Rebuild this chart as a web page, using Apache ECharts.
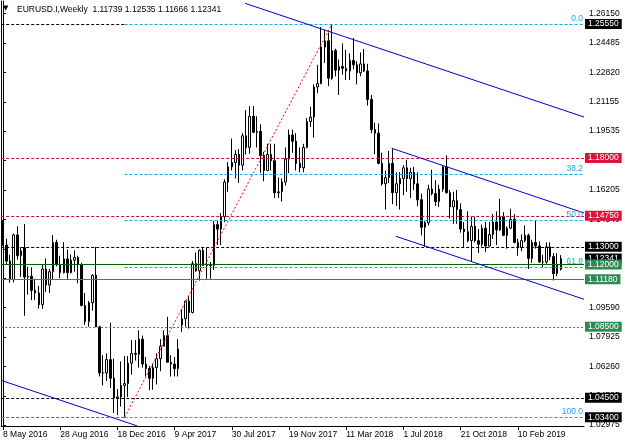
<!DOCTYPE html>
<html>
<head>
<meta charset="utf-8">
<script src="https://cdn.jsdelivr.net/npm/echarts@6/dist/echarts.min.js"></script>
<style>
html, body { margin: 0; padding: 0; background: #fff; }
#chart { width: 625px; height: 446px; }
</style>
</head>
<body>
<div id="chart"></div>
<script>
// weekly EURUSD bars, first bar = week of 8 May 2016
const openPrices = [
    1.1405, 1.1310, 1.1220, 1.1115, 1.1367, 1.1250, 1.1295, 1.1130, 1.1135, 1.1055,
    1.1040, 1.0975, 1.1175, 1.1085, 1.1160, 1.1325, 1.1200, 1.1155, 1.1232, 1.1155,
    1.1225, 1.1240, 1.1200, 1.0970, 1.0880, 1.0985, 1.1140, 1.0850, 1.0590, 1.0590,
    1.0665, 1.0560, 1.0450, 1.0455, 1.0520, 1.0530, 1.0645, 1.0700, 1.0695, 1.0780,
    1.0640, 1.0615, 1.0560, 1.0620, 1.0670, 1.0740, 1.0800, 1.0650, 1.0640, 1.0615,
    1.0860, 1.0895, 1.0995, 1.0930, 1.1205, 1.1165, 1.1280, 1.1195, 1.1195, 1.1195,
    1.1425, 1.1400, 1.1470, 1.1665, 1.1750, 1.1775, 1.1820, 1.1760, 1.1925, 1.1860,
    1.2035, 1.1945, 1.1950, 1.1815, 1.1730, 1.1820, 1.1785, 1.1605, 1.1610, 1.1665,
    1.1795, 1.1930, 1.1895, 1.1770, 1.1745, 1.1860, 1.2005, 1.2030, 1.2200, 1.2220,
    1.2425, 1.2460, 1.2250, 1.2405, 1.2295, 1.2315, 1.2305, 1.2290, 1.2350, 1.2325,
    1.2280, 1.2330, 1.2290, 1.2130, 1.1960, 1.1940, 1.1770, 1.1655, 1.1690, 1.1770,
    1.1605, 1.1655, 1.1685, 1.1745, 1.1685, 1.1720, 1.1655, 1.1565, 1.1410, 1.1435,
    1.1625, 1.1600, 1.1555, 1.1625, 1.1750, 1.1605, 1.1525, 1.1560, 1.1510, 1.1400,
    1.1385, 1.1335, 1.1415, 1.1335, 1.1315, 1.1405, 1.1305, 1.1370, 1.1440, 1.1395,
    1.1470, 1.1365, 1.1405, 1.1455, 1.1325, 1.1295, 1.1335, 1.1365, 1.1235, 1.1325,
    1.1305, 1.1215, 1.1215, 1.1300, 1.1245, 1.1150, 1.11739
];
const highPrices = [
    1.1451, 1.1345, 1.1255, 1.1375, 1.1416, 1.1298, 1.1428, 1.1188, 1.1185, 1.1120,
    1.1080, 1.1198, 1.1235, 1.1175, 1.1366, 1.1340, 1.1250, 1.1327, 1.1285, 1.1258,
    1.1280, 1.1250, 1.1210, 1.1040, 1.0995, 1.1145, 1.1300, 1.0855, 1.0690, 1.0700,
    1.0873, 1.0670, 1.0500, 1.0655, 1.0685, 1.0685, 1.0775, 1.0775, 1.0830, 1.0800,
    1.0680, 1.0630, 1.0640, 1.0700, 1.0780, 1.0830, 1.0906, 1.0690, 1.0680, 1.0780,
    1.0950, 1.0995, 1.1023, 1.1220, 1.1268, 1.1285, 1.1295, 1.1295, 1.1215, 1.1445,
    1.1445, 1.1490, 1.1680, 1.1777, 1.1910, 1.1845, 1.1850, 1.1940, 1.2070, 1.2092,
    1.2092, 1.2035, 1.1990, 1.1835, 1.1880, 1.1880, 1.1880, 1.1690, 1.1685, 1.1860,
    1.1960, 1.1960, 1.1940, 1.1860, 1.1880, 1.2025, 1.2090, 1.2215, 1.2325, 1.2537,
    1.2520, 1.2507, 1.2555, 1.2415, 1.2355, 1.2445, 1.2410, 1.2390, 1.2476, 1.2345,
    1.2395, 1.2414, 1.2330, 1.2155, 1.2000, 1.1995, 1.1830, 1.1730, 1.1840, 1.1852,
    1.1720, 1.1720, 1.1760, 1.1790, 1.1745, 1.1750, 1.1720, 1.1600, 1.1445, 1.1650,
    1.1735, 1.1675, 1.1650, 1.1760, 1.1815, 1.1620, 1.1610, 1.1620, 1.1545, 1.1440,
    1.1500, 1.1470, 1.1470, 1.1400, 1.1425, 1.1440, 1.1440, 1.1485, 1.1500, 1.1570,
    1.1495, 1.1415, 1.1515, 1.1485, 1.1345, 1.1370, 1.1420, 1.1375, 1.1340, 1.1448,
    1.1330, 1.1255, 1.1325, 1.1325, 1.1265, 1.1265, 1.12535
];
const lowPrices = [
    1.1305, 1.1200, 1.1098, 1.1100, 1.1228, 1.1131, 1.0912, 1.1030, 1.1000, 1.1000,
    1.0952, 1.0950, 1.1045, 1.1040, 1.1115, 1.1190, 1.1123, 1.1150, 1.1120, 1.1150,
    1.1160, 1.1095, 1.0965, 1.0860, 1.0850, 1.0940, 1.0850, 1.0570, 1.0520, 1.0545,
    1.0505, 1.0365, 1.0352, 1.0400, 1.0340, 1.0455, 1.0580, 1.0660, 1.0620, 1.0620,
    1.0570, 1.0493, 1.0495, 1.0525, 1.0600, 1.0740, 1.0650, 1.0570, 1.0570, 1.0570,
    1.0820, 1.0850, 1.0840, 1.0925, 1.1160, 1.1110, 1.1195, 1.1120, 1.1120, 1.1170,
    1.1310, 1.1310, 1.1440, 1.1610, 1.1730, 1.1685, 1.1660, 1.1730, 1.1820, 1.1825,
    1.1940, 1.1860, 1.1717, 1.1670, 1.1730, 1.1730, 1.1575, 1.1575, 1.1555, 1.1645,
    1.1715, 1.1830, 1.1730, 1.1720, 1.1720, 1.1855, 1.1975, 1.1915, 1.2165, 1.2215,
    1.2335, 1.2205, 1.2240, 1.2260, 1.2155, 1.2270, 1.2240, 1.2240, 1.2300, 1.2215,
    1.2260, 1.2285, 1.2095, 1.1940, 1.1822, 1.1765, 1.1645, 1.1510, 1.1660, 1.1540,
    1.1530, 1.1510, 1.1590, 1.1610, 1.1575, 1.1620, 1.1530, 1.1365, 1.1301, 1.1420,
    1.1590, 1.1530, 1.1525, 1.1610, 1.1600, 1.1460, 1.1430, 1.1430, 1.1380, 1.1300,
    1.1325, 1.1216, 1.1325, 1.1265, 1.1300, 1.1270, 1.1300, 1.1345, 1.1310, 1.1390,
    1.1360, 1.1290, 1.1400, 1.1320, 1.1250, 1.1275, 1.1325, 1.1176, 1.1210, 1.1290,
    1.1210, 1.1185, 1.1205, 1.1225, 1.1111, 1.1135, 1.11666
];
const closePrices = [
    1.1310, 1.1220, 1.1115, 1.1367, 1.1250, 1.1278, 1.1130, 1.1135, 1.1055, 1.1040,
    1.0975, 1.1175, 1.1085, 1.1160, 1.1325, 1.1200, 1.1155, 1.1232, 1.1155, 1.1225,
    1.1240, 1.1200, 1.0970, 1.0880, 1.0985, 1.1140, 1.0850, 1.0590, 1.0590, 1.0665,
    1.0560, 1.0450, 1.0455, 1.0520, 1.0530, 1.0645, 1.0700, 1.0695, 1.0780, 1.0640,
    1.0615, 1.0560, 1.0620, 1.0670, 1.0740, 1.0800, 1.0650, 1.0640, 1.0615, 1.0725,
    1.0895, 1.0995, 1.0930, 1.1205, 1.1165, 1.1280, 1.1195, 1.1195, 1.1195, 1.1425,
    1.1400, 1.1470, 1.1665, 1.1750, 1.1775, 1.1820, 1.1760, 1.1925, 1.1860, 1.2035,
    1.1945, 1.1950, 1.1815, 1.1730, 1.1820, 1.1785, 1.1605, 1.1610, 1.1665, 1.1795,
    1.1930, 1.1895, 1.1770, 1.1745, 1.1860, 1.2005, 1.2030, 1.2200, 1.2220, 1.2425,
    1.2460, 1.2250, 1.2405, 1.2295, 1.2315, 1.2305, 1.2290, 1.2350, 1.2325, 1.2280,
    1.2330, 1.2290, 1.2130, 1.1960, 1.1940, 1.1770, 1.1655, 1.1690, 1.1770, 1.1605,
    1.1655, 1.1685, 1.1745, 1.1685, 1.1720, 1.1655, 1.1565, 1.1410, 1.1435, 1.1625,
    1.1600, 1.1555, 1.1625, 1.1750, 1.1605, 1.1525, 1.1560, 1.1510, 1.1400, 1.1385,
    1.1335, 1.1415, 1.1335, 1.1315, 1.1405, 1.1305, 1.1370, 1.1440, 1.1395, 1.1470,
    1.1365, 1.1405, 1.1455, 1.1325, 1.1295, 1.1335, 1.1365, 1.1235, 1.1325, 1.1305,
    1.1215, 1.1215, 1.1300, 1.1245, 1.1150, 1.1200, 1.12341
];

const firstWeek = [2016, 4, 8];
const slotCount = 163;          // visible weekly slots incl. empty shift on the right
const dateLabelStep = 16;
const lastDateLabel = 144;

const priceTicks = [1.26150, 1.24485, 1.22820, 1.21155, 1.19535, 1.17870, 1.16205, 1.14540,
    1.12875, 1.11210, 1.09590, 1.07925, 1.06260, 1.04595, 1.02975];
const priceMin = 1.02912;
const priceMax = 1.26843;

const redLevels = [1.18000, 1.14750];
const blackLevels = [1.13000, 1.04500];
const greenSolidLevels = [1.12000, 1.11180];
const greenDashedLevels = [1.08500];
const currentPrice = 1.12341;

const fibHigh = 1.25550;
const fibLow = 1.03400;
const fibStartBar = 34;
const fibPeakBar = 92;
const fibRatios = [0.0, 38.2, 50.0, 61.8, 100.0];

// trend lines: [bar, price] pairs
const trendLines = [
    [[67.7, 1.26713], [162.5, 1.20311]],
    [[108.7, 1.18549], [162.5, 1.14906]],
    [[109.9, 1.13594], [162.5, 1.10047]],
    [[-0.5, 1.05480], [37.5, 1.02920]]
];

const months = ['Jan', 'Feb', 'Mar', 'Apr', 'May', 'Jun', 'Jul', 'Aug', 'Sep', 'Oct', 'Nov', 'Dec'];
let weekLabels = [];
for (let i = 0; i < slotCount; i++) {
    let d = new Date(firstWeek[0], firstWeek[1], firstWeek[2] + 7 * i);
    weekLabels.push(d.getDate() + ' ' + months[d.getMonth()] + ' ' + d.getFullYear());
}

let candles = openPrices.map((o, i) => [o, closePrices[i], lowPrices[i], highPrices[i]]);

const font = 'Liberation Sans';
const fibColor = '#16a8ee';
const firstBar = -0.5;
const lastBar = slotCount - 0.5;

function tag(text, bg) {
    return {
        show: true, position: 'end', distance: 1, formatter: text,
        backgroundColor: bg, color: '#fff', fontFamily: font, fontSize: 8.5,
        lineHeight: 9, padding: [1, 3, 0, 3]
    };
}

// horizontal line across the whole chart, with a price tag on the axis
function fullLine(v, color, type, tagBg) {
    return [{
        coord: [firstBar, v],
        lineStyle: {color: color, type: type, width: 1},
        label: tag(v.toFixed(5), tagBg)
    }, {coord: [lastBar, v]}];
}

let marks = [];
// tag only (no visible line)
marks.push(fullLine(fibHigh, 'transparent', 'solid', '#000'));
marks.push(fullLine(fibLow, 'transparent', 'solid', '#000'));
marks.push(fullLine(currentPrice, 'transparent', 'solid', '#000'));
redLevels.forEach(v => marks.push(fullLine(v, '#c8102e', [3, 2], '#dc143c')));
blackLevels.forEach(v => marks.push(fullLine(v, '#000', [3, 2], '#000')));
marks.push(fullLine(greenSolidLevels[0], '#006400', 'solid', '#2e8b57'));
marks.push(fullLine(greenSolidLevels[1], '#2e8b57', 'solid', '#2e8b57'));
greenDashedLevels.forEach(v => marks.push(fullLine(v, '#2e8b57', [2, 2], '#2e8b57')));

// left parts of the two horizontal lines under the fibo ends
marks.push([{coord: [firstBar, fibHigh], lineStyle: {color: '#000', type: [3, 2], width: 1}}, {coord: [fibStartBar, fibHigh]}]);
marks.push([{coord: [firstBar, fibLow], lineStyle: {color: '#666', type: [3, 2], width: 1}}, {coord: [fibStartBar, fibLow]}]);

fibRatios.forEach(r => {
    let v = fibHigh - (fibHigh - fibLow) * r / 100;
    marks.push([{
        coord: [fibStartBar, v],
        lineStyle: {color: fibColor, type: [3, 2], width: 1},
        label: {
            show: true, position: 'insideEndTop', distance: 1, formatter: r.toFixed(1),
            color: fibColor, fontFamily: font, fontSize: 8.5
        }
    }, {coord: [lastBar, v]}]);
});

marks.push([{coord: [fibStartBar, fibLow], lineStyle: {color: '#ff0000', type: [2, 2], width: 1}},
    {coord: [fibPeakBar, fibHigh]}]);

trendLines.forEach(t => {
    marks.push([{coord: t[0], lineStyle: {color: '#0000cd', type: 'solid', width: 1}}, {coord: t[1]}]);
});

let chartDom = document.getElementById('chart');
let myChart = echarts.init(chartDom, null, {renderer: 'canvas'});

const dateTick = (index) => index % dateLabelStep === 0 && index <= lastDateLabel;

let option = {
    animation: false,
    backgroundColor: '#fff',
    textStyle: {fontFamily: font},
    grid: {left: 1, right: 41, top: 1, bottom: 20},
    graphic: [
        {type: 'text', left: 3, top: 5, style: {text: '\u25BC', fontSize: 7, fill: '#000', fontFamily: 'DejaVu Sans'}},
        {
            type: 'text', left: 17, top: 5,
            style: {text: 'EURUSD.I,Weekly  1.11739 1.12535 1.11666 1.12341', fontSize: 8.5, fill: '#000', fontFamily: font}
        }
    ],
    xAxis: [
        {
            type: 'category',
            data: weekLabels,
            boundaryGap: true,
            axisLine: {show: true, lineStyle: {color: '#000', width: 1}},
            axisTick: {show: true, alignWithLabel: true, interval: dateTick, length: 4, lineStyle: {color: '#000'}},
            axisLabel: {interval: dateTick, align: 'left', margin: 4, color: '#000', fontFamily: font, fontSize: 8.5},
            splitLine: {show: false}
        },
        {type: 'value', min: firstBar, max: lastBar, show: false}
    ],
    yAxis: [
        {
            type: 'value',
            position: 'right',
            min: priceMin,
            max: priceMax,
            axisLine: {show: true, lineStyle: {color: '#000', width: 1}},
            axisTick: {show: true, customValues: priceTicks, length: 3, lineStyle: {color: '#000'}},
            axisLabel: {
                customValues: priceTicks, margin: 5, color: '#000', fontFamily: font, fontSize: 8.5,
                formatter: v => v.toFixed(5)
            },
            splitLine: {show: false}
        },
        {
            type: 'value',
            position: 'left',
            min: priceMin,
            max: priceMax,
            axisLine: {show: true, lineStyle: {color: '#000', width: 1}},
            axisTick: {show: false},
            axisLabel: {show: false},
            splitLine: {show: false}
        }
    ],
    series: [
        {
            type: 'candlestick',
            xAxisIndex: 0,
            yAxisIndex: 0,
            z: 2,
            barWidth: 2,
            data: candles,
            itemStyle: {color: '#fff', color0: '#000', borderColor: '#000', borderColor0: '#000', borderWidth: 1}
        },
        {
            type: 'line',
            xAxisIndex: 1,
            yAxisIndex: 0,
            z: 3,
            data: [[0, 1.2]],
            showSymbol: false,
            lineStyle: {opacity: 0},
            markLine: {
                silent: true,
                symbol: ['none', 'none'],
                animation: false,
                emphasis: {disabled: true},
                label: {show: false},
                data: marks
            }
        }
    ]
};

myChart.setOption(option);

window.addEventListener('resize', () => {
    myChart.resize()
})
</script>
</body>
</html>
